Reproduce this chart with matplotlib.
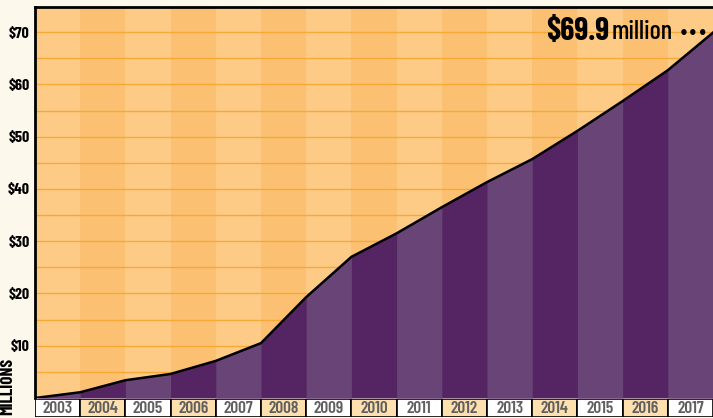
import matplotlib
matplotlib.use("Agg")
from matplotlib import pyplot as plt
import numpy as np

# revenue at end of each year, millions of dollars (first point = start of 2003)
years = ["2003", "2004", "2005", "2006", "2007", "2008", "2009", "2010",
         "2011", "2012", "2013", "2014", "2015", "2016", "2017"]
values = [0, 1.1, 3.4, 4.6, 7.1, 10.5, 19.3, 27.0, 31.5, 36.5,
          41.3, 45.7, 51.1, 56.8, 62.7, 69.9]
yticks = [10, 20, 30, 40, 50, 60, 70]
ytick_labels = ["$10", "$20", "$30", "$40", "$50", "$60", "$70"]

fam = ["Barlow Condensed", "DejaVu Sans"]
ymax = 74.8

fig = plt.figure(figsize=(7.13, 4.18), dpi=100)
fig.patch.set_facecolor("#fdf8ec")

ax = fig.add_axes([35 / 713, 20 / 418, 678 / 713, 391 / 418])
ax.set_xlim(0, len(years))
ax.set_ylim(0, ymax)

x = np.arange(len(values))
orange = ["#fdcb86", "#fbc071"]
purple = ["#694476", "#552563"]

# background columns
for i in range(len(years)):
    ax.bar(i + 0.5, ymax, width=1, color=orange[i % 2], zorder=0)

# gridlines every $5
for g in np.arange(5, ymax, 5):
    ax.axhline(g, color="#f7a935", lw=1, zorder=1)

# purple area under the line: dark everywhere, then lighter on odd years
ax.fill_between(x, 0, values, color=purple[1], lw=0, zorder=2)
for i in range(0, len(years), 2):
    ax.fill_between(x[i:i + 2], 0, values[i:i + 2], color=purple[0],
                    lw=0, zorder=2.1)

ax.plot(x, values, color="black", lw=1.8, zorder=3)

ax.set_xticks([])
ax.set_yticks(yticks)
ax.set_yticklabels(ytick_labels, family=fam, fontsize=11.5, fontweight=700)
ax.tick_params(axis="y", length=0, pad=4)
for s in ["right", "bottom"]:
    ax.spines[s].set_visible(False)
ax.spines["left"].set_linewidth(2)
ax.spines["top"].set_linewidth(2)

ty = 1 - 32 / 418
fig.text(546 / 713, ty, "$69.9", family=fam, fontsize=23,
         fontweight=700, ha="left", va="center")
fig.text(612 / 713, ty, "million", family=fam, fontsize=19,
         fontweight=500, ha="left", va="center")
fig.text(708 / 713, ty - 0.003, "\u2022\u2022\u2022", family=["DejaVu Sans"],
         fontsize=11, fontweight="bold", ha="right", va="center")

# year label boxes
lab = fig.add_axes([35 / 713, 1.5 / 418, 678 / 713, 17.5 / 418])
lab.set_xlim(0, len(years))
lab.set_ylim(0, 1)
box = ["white", "#fde0ad"]
for i, yr in enumerate(years):
    lab.bar(i + 0.5, 1, width=1, color=box[i % 2], edgecolor="black", lw=1.2)
    lab.text(i + 0.5, 0.46, yr, ha="center", va="center", family=fam,
             fontsize=12.5, fontweight=600, color="#606060")
lab.axis("off")

fig.text(8 / 713, 1 - 386 / 418, "MILLIONS", rotation=90, family=fam,
         fontsize=12.5, fontweight=700, ha="center", va="center")

fig.savefig("out.png", dpi=100, facecolor=fig.get_facecolor())
